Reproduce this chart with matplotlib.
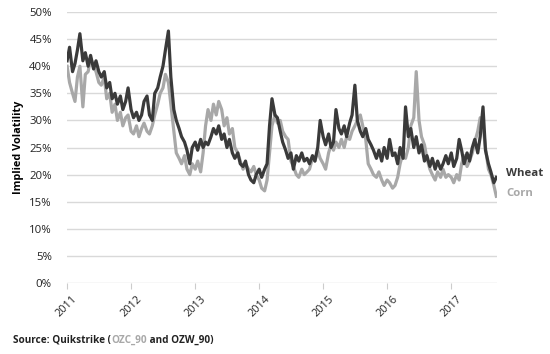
import numpy as np
import pandas as pd
import matplotlib
matplotlib.use('Agg')
import matplotlib.pyplot as plt
import matplotlib.dates as mdates

plt.rcParams['font.family'] = ['Open Sans', 'DejaVu Sans']

# implied volatility (%)
wheat = {
    2011: [41, 43.5, 39, 40.5, 43, 46, 41, 42.5, 40, 42, 39.5, 41, 39, 38, 39, 36, 37, 34, 35, 33, 34.5, 32, 33.5, 36],
    2012: [32, 30.5, 31.5, 30, 31, 33.5, 34.5, 31, 30, 35, 36, 38, 40, 43, 46.5, 38, 32, 30, 28.5, 27, 26, 24.5, 22, 25],
    2013: [26, 24.5, 26.5, 25, 26, 25.5, 27, 28.5, 27.5, 29, 26.5, 27.5, 25, 26.5, 24, 23, 24, 22, 21.5, 22.5, 20, 19, 18.5, 20],
    2014: [21, 19.5, 21, 22, 29, 34, 31, 30.5, 28, 26, 24.5, 23, 24, 21, 23.5, 22.5, 24, 22.5, 23, 22, 23.5, 22.5, 25, 30],
    2015: [27, 25.5, 27.5, 25, 26, 32, 28.5, 27.5, 29, 27, 29.5, 31, 36.5, 30, 28, 27, 28.5, 26.5, 25.5, 24.5, 23, 24.5, 22.5, 25],
    2016: [23, 26.5, 23.5, 24, 22, 25, 23, 32.5, 27, 28.5, 25, 27, 24, 25.5, 22.5, 23.5, 21.5, 23, 21, 22.5, 21, 22, 23.5, 22],
    2017: [24, 21.5, 23, 26.5, 24.5, 22, 24, 22.5, 25, 26.5, 24, 27, 32.5, 24.5, 22, 20.5, 18.5, 19.5],
}
corn = {
    2011: [40, 37, 35, 33.5, 38, 40, 32.5, 38.5, 39, 41.5, 40, 39, 37, 36.5, 38, 34, 35, 31.5, 33, 30, 31.5, 29, 30.5, 31],
    2012: [28, 27.5, 29, 27, 28.5, 29.5, 28, 27.5, 29, 31, 33, 35, 36, 38.5, 37, 33, 28, 24, 23, 22, 23.5, 21, 20, 22],
    2013: [21, 22.5, 20.5, 24, 29, 32, 30, 33, 31, 33.5, 32, 29, 30.5, 27.5, 28.5, 25, 24, 22.5, 21, 22, 21, 20.5, 21.5, 20],
    2014: [19, 17.5, 17, 19, 24, 29, 31, 29.5, 30, 28, 27, 26.5, 22.5, 21.5, 20, 19.5, 21, 20, 20.5, 21, 23, 22.5, 24.5, 23],
    2015: [22, 21, 24, 25.5, 24.5, 26, 25, 26.5, 25, 27, 26.5, 28, 29, 30, 31, 29, 26.5, 22, 21, 20, 19.5, 20.5, 19, 18],
    2016: [19, 18.5, 17.5, 18, 19.5, 22, 24, 23, 25, 29, 30.5, 39, 30, 27, 25.5, 23, 21, 20, 19, 20.5, 19.5, 21, 19.5, 20],
    2017: [19.5, 18.5, 20, 19, 22, 23.5, 21.5, 22.5, 24, 26, 28, 30.5, 29, 25, 21, 20, 18, 16],
}
years = list(range(2011, 2018))


def to_series(d):
    parts = []
    for yr in years:
        idx = pd.date_range(f'{yr}-01-01', periods=len(d[yr]), freq='SMS')
        parts.append(pd.Series(d[yr], index=idx))
    return pd.concat(parts) / 100


w = to_series(wheat)
c = to_series(corn)

fig = plt.figure(figsize=(5.5, 3.54), dpi=100)
ax = fig.add_axes([0.122, 0.2006, 0.782, 0.7654])

ax.plot(c.index, c.values, color='#a8a8a8', linewidth=2.3)
ax.plot(w.index, w.values, color='#3a3a3a', linewidth=2.3)

ax.set_ylim(0, 0.5)
ax.set_xlim(pd.Timestamp('2011-01-01'), pd.Timestamp('2017-09-20'))
ax.set_yticks(np.arange(0, 0.51, 0.05))
ax.set_yticklabels([f'{int(round(v * 100))}%' for v in np.arange(0, 0.51, 0.05)])
ax.yaxis.grid(True, color='#d9d9d9', linewidth=1)
ax.set_axisbelow(True)
for s in ['top', 'right', 'left', 'bottom']:
    ax.spines[s].set_visible(False)
ax.tick_params(axis='y', length=0, labelsize=8.2, colors='#222222', pad=11)

ax.xaxis.set_major_locator(mdates.YearLocator())
ax.xaxis.set_major_formatter(mdates.DateFormatter('%Y'))
ax.tick_params(axis='x', length=4, color='#cccccc', labelsize=7.8, colors='#222222')
plt.setp(ax.get_xticklabels(), rotation=45, ha='center', color='#222222')

ax.set_ylabel('Implied Volatility', fontsize=7.8, fontweight='bold', labelpad=4)

# end labels
ax.annotate('Wheat', xy=(w.index[-1], w.values[-1]), xytext=(7, 3), textcoords='offset points',
            fontsize=8.2, fontweight='bold', color='#3a3a3a', va='center')
ax.annotate('Corn', xy=(c.index[-1], c.values[-1]), xytext=(7, 2), textcoords='offset points',
            fontsize=8.2, fontweight='bold', color='#a8a8a8', va='center')

# source line with a grey part
fig.canvas.draw()
r = fig.canvas.get_renderer()
x0 = 13 / 550
parts = [('Source: Quikstrike (', '#222222'), ('OZC_90', '#a8a8a8'), (' and OZW_90)', '#222222')]
for txt, col in parts:
    t = fig.text(x0, 1 - 340 / 354, txt, fontsize=7.2, fontweight='bold', color=col, va='center')
    bb = t.get_window_extent(renderer=r)
    x0 += bb.width / fig.bbox.width

fig.savefig('out.png', dpi=100)
